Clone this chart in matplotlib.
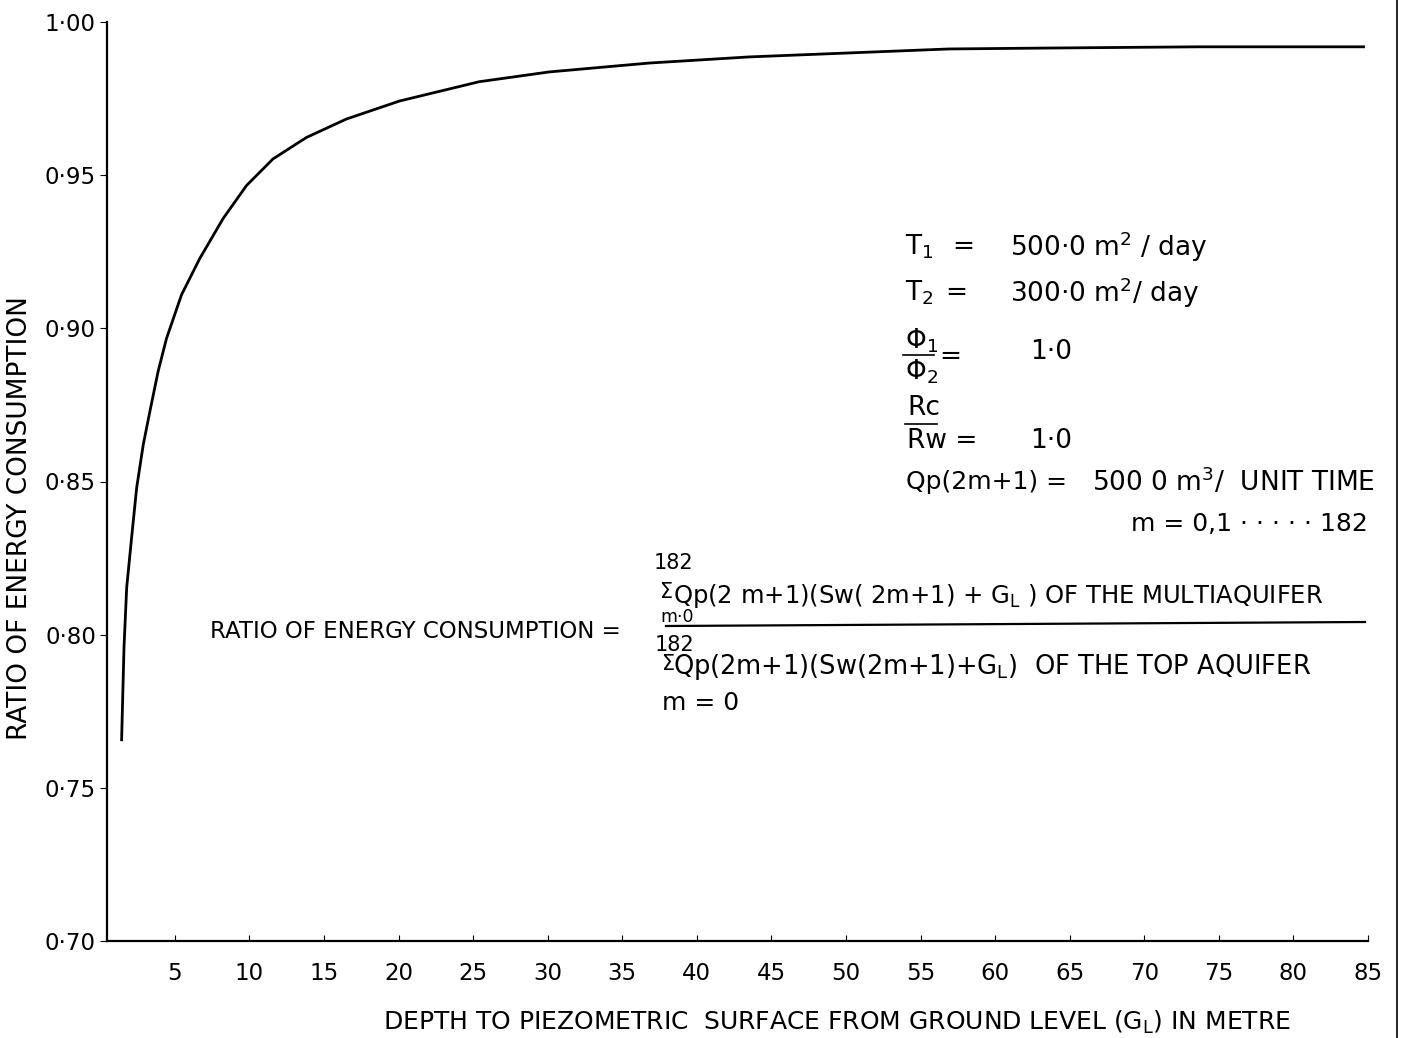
import matplotlib
matplotlib.use('Agg')
import matplotlib.pyplot as plt
from matplotlib.lines import Line2D

# depth to piezometric surface (m) vs ratio of energy consumption
depth = [1.43, 1.59, 1.77, 2.10, 2.44, 2.88, 3.33, 3.88, 4.44, 5.45, 6.67,
         8.23, 9.80, 11.58, 13.82, 16.49, 20.06, 25.4, 30.1, 36.8, 43.5,
         50.2, 56.9, 63.6, 73.6, 84.7]
ratio = [0.7657, 0.7959, 0.8154, 0.8317, 0.8480, 0.8620, 0.8730, 0.8860,
         0.8967, 0.9110, 0.9228, 0.9358, 0.9466, 0.9553, 0.9623, 0.9683,
         0.9742, 0.9805, 0.9837, 0.9866, 0.9886, 0.9899, 0.9912, 0.9915,
         0.9919, 0.9919]

x_ticks = list(range(5, 90, 5))
y_ticks = [0.70, 0.75, 0.80, 0.85, 0.90, 0.95, 1.00]
y_tick_labels = ['0·70', '0·75', '0·80', '0·85', '0·90', '0·95', '1·00']

plt.rcParams['font.family'] = ['DejaVu Sans']
plt.rcParams['mathtext.default'] = 'regular'

W, H = 1413, 1038


def fx(px):
    return px / W


def fy(py):
    return 1 - py / H


fig = plt.figure(figsize=(W / 100, H / 100), dpi=100)
ax = fig.add_axes([fx(107), fy(941), (1368 - 107) / W, (941 - 22) / H])

ax.plot(depth, ratio, color='black', lw=2.0)

ax.set_xlim(0.45, 84.85)
ax.set_ylim(0.70, 1.00)
ax.set_xticks(x_ticks)
ax.set_xticklabels([str(t) for t in x_ticks])
ax.set_yticks(y_ticks)
ax.set_yticklabels(y_tick_labels)
ax.tick_params(axis='x', direction='in', length=4, pad=15, labelsize=16.5)
ax.tick_params(axis='y', direction='out', length=5, pad=3, labelsize=16.5)

for s in ['top', 'right']:
    ax.spines[s].set_visible(False)
for s in ['left', 'bottom']:
    ax.spines[s].set_linewidth(1.6)

fig.text(fx(20), fy(518), 'RATIO OF ENERGY CONSUMPTION', rotation=90,
         ha='center', va='center', fontsize=19)
fig.text(fx(837), fy(1022),
         'DEPTH TO PIEZOMETRIC  SURFACE FROM GROUND LEVEL (G$_L$) IN METRE',
         ha='center', va='center', fontsize=18)

# parameter block
kw = dict(va='center', ha='left', fontsize=19)
fig.text(fx(905), fy(247), 'T$_1$', **kw)
fig.text(fx(952), fy(247), '=', **kw)
fig.text(fx(1010), fy(247), '500·0 m$^2$ / day', **kw)
fig.text(fx(905), fy(293), 'T$_2$', **kw)
fig.text(fx(945), fy(293), '=', **kw)
fig.text(fx(1010), fy(293), '300·0 m$^2$/ day', **kw)
fig.text(fx(905), fy(341), 'Φ$_1$', **kw)
fig.add_artist(Line2D([fx(903), fx(934)], [fy(355), fy(355)], color='black', lw=1.2))
fig.text(fx(905), fy(372), 'Φ$_2$', **kw)
fig.text(fx(939), fy(357), '=', **kw)
fig.text(fx(1030), fy(352), '1·0', **kw)
fig.text(fx(907), fy(408), 'Rc', **kw)
fig.add_artist(Line2D([fx(905), fx(937)], [fy(424), fy(424)], color='black', lw=1.2))
fig.text(fx(907), fy(441), 'Rw =', **kw)
fig.text(fx(1030), fy(441), '1·0', **kw)
fig.text(fx(906), fy(482), 'Qp(2m+1) =', va='center', ha='left', fontsize=18)
fig.text(fx(1092), fy(482), '500 0 m$^3$/  UNIT TIME', **kw)
fig.text(fx(1368), fy(524), 'm = 0,1 · · · · · 182', va='center', ha='right', fontsize=18)

# formula
fig.text(fx(210), fy(632), 'RATIO OF ENERGY CONSUMPTION =', va='center', ha='left',
         fontsize=16.5)
fig.text(fx(654), fy(563), '182', va='center', ha='left', fontsize=15)
fig.text(fx(660), fy(592), 'Σ', va='center', ha='left', fontsize=15)
fig.text(fx(673), fy(596), 'Qp(2 m+1)(Sw( 2m+1) + G$_L$ ) OF THE MULTIAQUIFER',
         va='center', ha='left', fontsize=17.5)
fig.text(fx(660), fy(617), 'm·0', va='center', ha='left', fontsize=12.5)
fig.add_artist(Line2D([fx(666), fx(1365)], [fy(626), fy(622)], color='black', lw=1.6))
fig.text(fx(655), fy(645), '182', va='center', ha='left', fontsize=15)
fig.text(fx(662), fy(664), 'Σ', va='center', ha='left', fontsize=15)
fig.text(fx(673), fy(667), 'Qp(2m+1)(Sw(2m+1)+G$_L$)  OF THE TOP AQUIFER',
         va='center', ha='left', fontsize=18.5)
fig.text(fx(662), fy(703), 'm = 0', va='center', ha='left', fontsize=18)

# page edge of the scanned sheet
fig.add_artist(Line2D([fx(1397), fx(1397)], [0, 1], color='black', lw=1.2))

fig.savefig('out.png', dpi=100, facecolor='white')
